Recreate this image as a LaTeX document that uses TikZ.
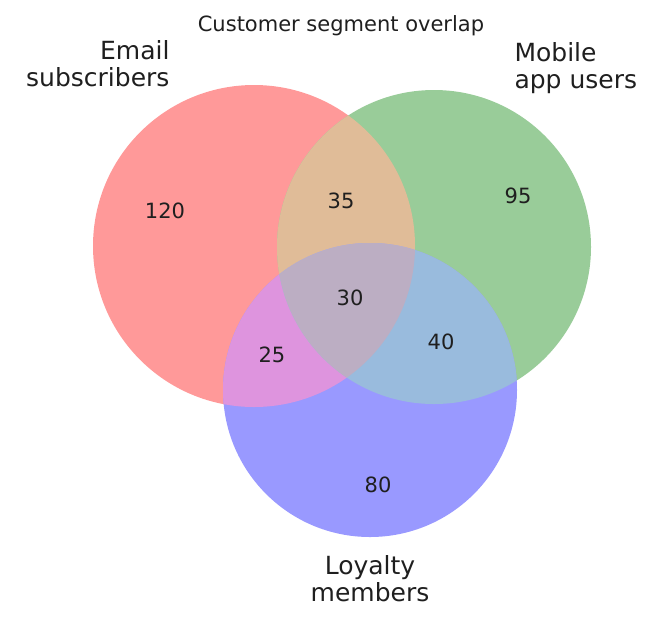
\documentclass[tikz,border=0pt]{standalone}
\usepackage{fontspec}
\setmainfont{DejaVu Sans}
\begin{document}
\begin{tikzpicture}[x=1pt,y=-1pt,
  lbl/.style={font=\fontsize{25}{27}\selectfont,text=black!88,align=center},
  num/.style={font=\fontsize{21}{23}\selectfont,text=black!88}]
\useasboundingbox (0,0) rectangle (663,622);
\definecolor{cR}{HTML}{FF9999}\definecolor{cG}{HTML}{99CC99}\definecolor{cB}{HTML}{9999FF}
\definecolor{cRG}{HTML}{E0BC98}\definecolor{cRB}{HTML}{DE94DE}\definecolor{cGB}{HTML}{99BBDD}
\definecolor{cAll}{HTML}{BCAEC3}
\def\R{(254,246) circle[radius=161]}
\def\G{(434,247) circle[radius=157]}
\def\B{(370,390) circle[radius=147]}
\fill[cR] \R; \fill[cG] \G; \fill[cB] \B;
\begin{scope}\clip \R; \fill[cRG] \G; \fill[cRB] \B; \end{scope}
\begin{scope}\clip \G; \fill[cGB] \B; \end{scope}
\begin{scope}\clip \R; \clip \G; \fill[cAll] \B; \end{scope}
\node[font=\fontsize{21}{23}\selectfont,text=black!88] (t) at (341,26) {Customer segment overlap};
\node[lbl,align=right,anchor=east] (e) at (173,64) {Email\\subscribers};
\node[lbl,align=left,anchor=west] (m) at (511,68) {Mobile\\app users};
\node[lbl] (l) at (370,579) {Loyalty\\members};
\node[num] (n1) at (165,211) {120};
\node[num] (n2) at (518,196) {95};
\node[num] (n3) at (341,201) {35};
\node[num] (n4) at (350,298) {30};
\node[num] (n5) at (272,355) {25};
\node[num] (n6) at (441,342) {40};
\node[num] (n7) at (378,485) {80};
\end{tikzpicture}
\end{document}
